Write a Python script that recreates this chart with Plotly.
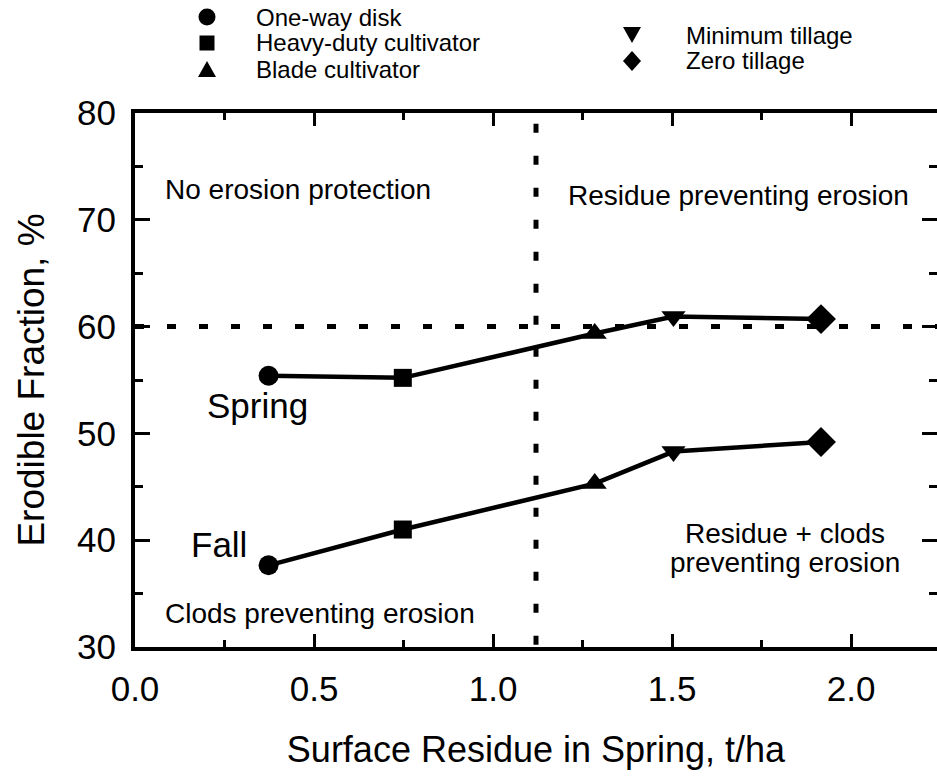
import plotly.graph_objects as go

# ---- data ----
residue = [0.373, 0.748, 1.284, 1.504, 1.916]
spring = [55.4, 55.2, 59.35, 60.95, 60.7]
fall = [37.65, 41.0, 45.3, 48.3, 49.2]
symbols = ["circle", "square", "triangle-up", "triangle-down", "diamond"]
marker_sizes = [20, 18, 21, 21, 23]
legend_labels = ["One-way disk", "Heavy-duty cultivator", "Blade cultivator",
                 "Minimum tillage", "Zero tillage"]
x_ticks = [0.0, 0.5, 1.0, 1.5, 2.0]
x_ticklabels = ["0.0", "0.5", "1.0", "1.5", "2.0"]
y_ticks = [30, 40, 50, 60, 70, 80]
threshold_y = 60
threshold_x = 1.12

FONT = "Liberation Sans, Arial, sans-serif"

W, H = 937, 776
L, R, T, B = 135, 0, 113, 129
X_RANGE = [0, 2.24]
Y_RANGE = [30, 80]

def px_to_paper_x(px):
    return (px - L) / (W - L - R)

def px_to_paper_y(py):
    return 1 - (py - T) / (H - T - B)

fig = go.Figure()
for series, name in [(spring, "Spring"), (fall, "Fall")]:
    fig.add_trace(go.Scatter(
        x=residue, y=series, mode="lines+markers", name=name,
        line=dict(color="black", width=4.5),
        marker=dict(symbol=symbols, size=marker_sizes, color="black",
                    line=dict(width=0), opacity=1),
        showlegend=False, cliponaxis=False))

# dotted threshold lines
fig.add_shape(type="line", xref="x", yref="y", x0=0, x1=2.3, y0=threshold_y, y1=threshold_y,
              line=dict(color="black", width=5, dash="9px,23px"), layer="below")
fig.add_shape(type="line", xref="x", yref="y", x0=threshold_x, x1=threshold_x, y0=79, y1=30,
              line=dict(color="black", width=5, dash="9px,23px"), layer="below")

# legend keys drawn as filled shapes in the top margin (pixel layout -> paper coords)
key_px = [(207, 17), (207, 43), (207, 69), (632, 35), (632, 61)]
label_px = [(255, 17), (255, 43), (255, 69), (685, 35), (685, 61)]

def key_path(sym, cx, cy):
    if sym == "triangle-up":
        pts = [(cx - 9, cy + 8), (cx + 9, cy + 8), (cx, cy - 8)]
    elif sym == "triangle-down":
        pts = [(cx - 9, cy - 8), (cx + 9, cy - 8), (cx, cy + 8)]
    elif sym == "diamond":
        pts = [(cx, cy - 10), (cx + 9, cy), (cx, cy + 10), (cx - 9, cy)]
    else:
        return None
    return "M " + " L ".join(f"{px_to_paper_x(x):.5f},{px_to_paper_y(y):.5f}" for x, y in pts) + " Z"

for sym, (cx, cy) in zip(symbols, key_px):
    style = dict(xref="paper", yref="paper", fillcolor="black", line=dict(width=0), layer="above")
    if sym == "circle":
        fig.add_shape(type="circle", x0=px_to_paper_x(cx - 8.5), x1=px_to_paper_x(cx + 8.5),
                      y0=px_to_paper_y(cy + 8.5), y1=px_to_paper_y(cy - 8.5), **style)
    elif sym == "square":
        fig.add_shape(type="rect", x0=px_to_paper_x(cx - 7.5), x1=px_to_paper_x(cx + 7.5),
                      y0=px_to_paper_y(cy + 7.5), y1=px_to_paper_y(cy - 7.5), **style)
    else:
        fig.add_shape(type="path", path=key_path(sym, cx, cy), **style)

ann = []
def txt(x, y, s, size, xanchor="left", xref="x", yref="y", pad=1):
    ann.append(dict(x=x, y=y, xref=xref, yref=yref, text=s, showarrow=False,
                    xanchor=xanchor, yanchor="middle", borderpad=pad,
                    font=dict(family=FONT, size=size, color="black")))

txt(0.078, 72.8, "No erosion protection", 28)
txt(1.203, 72.3, "Residue preventing erosion", 28)
txt(0.195, 52.6, "Spring", 35)
txt(0.150, 39.6, "Fall", 35)
txt(0.078, 33.1, "Clods preventing erosion", 28)
txt(1.815, 40.6, "Residue + clods", 28, xanchor="center")
txt(1.815, 37.9, "preventing erosion", 28, xanchor="center")

for lab, (px, py) in zip(legend_labels, label_px):
    txt(px_to_paper_x(px), px_to_paper_y(py), lab, 24, xref="paper", yref="paper", pad=0)

fig.update_layout(
    width=W, height=H,
    margin=dict(l=L, r=R, t=T, b=B, autoexpand=False),
    plot_bgcolor="white", paper_bgcolor="white",
    annotations=ann, showlegend=False,
    font=dict(family=FONT, color="black"),
)
fig.update_xaxes(
    range=X_RANGE, tickvals=x_ticks, ticktext=x_ticklabels, automargin=False,
    showgrid=False, zeroline=False, showline=True, linewidth=4, linecolor="black",
    mirror="ticks", ticks="inside", ticklen=13, tickwidth=3, tickcolor="black",
    minor=dict(dtick=0.25, tick0=0, ticks="inside", ticklen=7, tickwidth=3, tickcolor="black"),
    tickfont=dict(family=FONT, size=35), ticklabelstandoff=8,
    title=dict(text="Surface Residue in Spring, t/ha", font=dict(family=FONT, size=36), standoff=31),
)
fig.update_yaxes(
    range=Y_RANGE, tickvals=y_ticks, automargin=False,
    showgrid=False, zeroline=False, showline=True, linewidth=4, linecolor="black",
    mirror="ticks", ticks="inside", ticklen=15, tickwidth=3, tickcolor="black",
    minor=dict(dtick=5, tick0=30, ticks="inside", ticklen=8, tickwidth=3, tickcolor="black"),
    tickfont=dict(family=FONT, size=35), ticklabelstandoff=8,
    title=dict(text="Erodible Fraction, %", font=dict(family=FONT, size=37), standoff=22),
)

fig.write_html("out.html", config={"displayModeBar": False},
               post_script="document.body.style.margin='0px';document.body.style.overflow='hidden';")
